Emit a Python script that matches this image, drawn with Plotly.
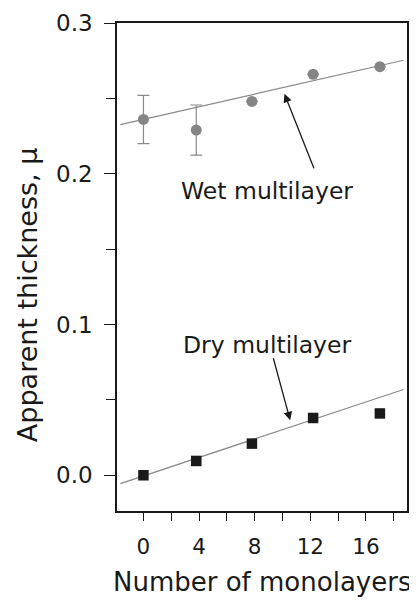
import plotly.graph_objects as go

# ---- data ----
layers = [0, 3.8, 7.8, 12.2, 17.0]
wet_thickness = [0.236, 0.229, 0.248, 0.266, 0.271]
wet_error = [0.016, 0.0166, 0, 0, 0]
dry_thickness = [0.0, 0.0095, 0.021, 0.038, 0.041]

fit_x = [-1.66, 18.7]
wet_fit = [0.2326, 0.2753]
dry_fit = [-0.0055, 0.0569]

x_ticks = [0, 4, 8, 12, 16]
y_ticks = [0.0, 0.1, 0.2, 0.3]

FONT = "DejaVu Sans"
GRAY = "#8a8a8a"
INK = "#1a1a1a"

fig = go.Figure()
fig.add_trace(go.Scatter(x=fit_x, y=wet_fit, mode="lines",
                         line=dict(color=GRAY, width=1.2), showlegend=False))
fig.add_trace(go.Scatter(x=fit_x, y=dry_fit, mode="lines",
                         line=dict(color=GRAY, width=1.2), showlegend=False))
fig.add_trace(go.Scatter(x=layers, y=wet_thickness, mode="markers",
                         marker=dict(symbol="circle", size=11, color="#858585"),
                         error_y=dict(type="data", array=wet_error, visible=True,
                                      color=GRAY, thickness=1.2, width=6),
                         showlegend=False))
fig.add_trace(go.Scatter(x=layers, y=dry_thickness, mode="markers",
                         marker=dict(symbol="square", size=10.5, color=INK),
                         showlegend=False))

# labels
fig.add_annotation(x=8.9, y=0.1887, xref="x", yref="y", text="Wet multilayer",
                   showarrow=False, font=dict(family=FONT, size=23.5, color=INK))
fig.add_annotation(x=8.9, y=0.0864, xref="x", yref="y", text="Dry multilayer",
                   showarrow=False, font=dict(family=FONT, size=23.5, color=INK))
# arrows
fig.add_annotation(x=10.14, y=0.253, ax=12.3, ay=0.2027, xref="x", yref="y",
                   axref="x", ayref="y", text="", showarrow=True,
                   arrowhead=2, arrowsize=1.3, arrowwidth=1.3, arrowcolor=INK)
fig.add_annotation(x=10.55, y=0.0365, ax=9.31, ay=0.0786, xref="x", yref="y",
                   axref="x", ayref="y", text="", showarrow=True,
                   arrowhead=2, arrowsize=1.3, arrowwidth=1.3, arrowcolor=INK)

# axis titles (placed as annotations to match the reference position)
fig.add_annotation(x=0.5, y=-0.146, xref="paper", yref="paper",
                   text="Number of monolayers", showarrow=False,
                   xanchor="center", yanchor="middle",
                   font=dict(family=FONT, size=26, color=INK))
fig.add_annotation(x=-0.31, y=0.4425, xref="paper", yref="paper",
                   text="Apparent thickness, \u03bc", showarrow=False, textangle=-90,
                   xanchor="center", yanchor="middle",
                   font=dict(family=FONT, size=27, color=INK))

axis_common = dict(showline=True, linecolor=INK, linewidth=1.5, mirror=True,
                   showgrid=False, zeroline=False, ticks="outside",
                   tickwidth=1.3, tickcolor=INK)

fig.update_xaxes(range=[-1.9, 18.95], tickvals=x_ticks,
                 ticktext=[str(v) for v in x_ticks], ticklen=8,
                 ticklabelstandoff=7,
                 tickfont=dict(family=FONT, size=21.5, color=INK),
                 minor=dict(dtick=2, tick0=0, ticks="outside", ticklen=8,
                            tickwidth=1.3, tickcolor=INK, showgrid=False),
                 **axis_common)
fig.update_yaxes(range=[-0.0237, 0.3], tickvals=y_ticks,
                 ticktext=[f"{v:.1f}" for v in y_ticks], ticklen=11,
                 ticklabelstandoff=7,
                 tickfont=dict(family=FONT, size=23, color=INK),
                 minor=dict(dtick=0.05, tick0=0, ticks="outside", ticklen=9,
                            tickwidth=1.3, tickcolor=INK, showgrid=False),
                 **axis_common)

# page body has an 8px default margin, so the figure is sized to fit the window
fig.update_layout(width=409, height=592,
                  margin=dict(l=109, r=10, t=15, b=89, autoexpand=False),
                  paper_bgcolor="white", plot_bgcolor="white",
                  font=dict(family=FONT, color=INK))

fig.write_html("out.html", config={"displayModeBar": False})
